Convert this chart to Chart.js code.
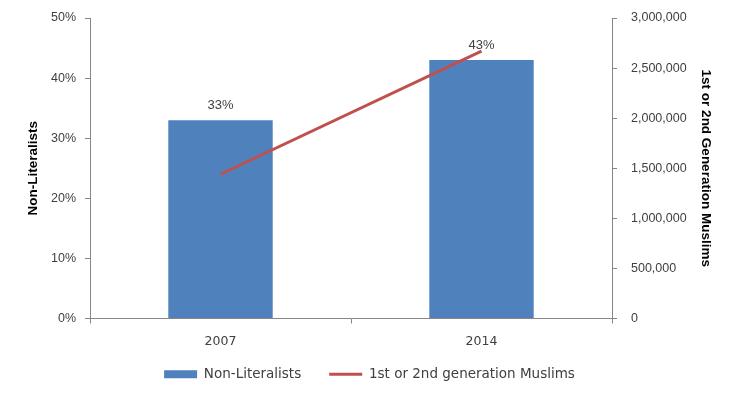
<!DOCTYPE html>
<html>
<head>
<meta charset="utf-8">
<script src="https://cdn.jsdelivr.net/npm/chart.js@4"></script>
<style>
  html, body { margin: 0; padding: 0; background: #fff; }
  #wrap { width: 737px; height: 399px; }
</style>
</head>
<body>
<div id="wrap"><canvas id="chart"></canvas></div>
<script>
// values
const years = ['2007', '2014'];
const nonLiteralists = [33, 43];           // percent
const muslims = [1440000, 2670000];        // 1st or 2nd generation
const pctTicks = [0, 10, 20, 30, 40, 50];
const countTicks = [0, 500000, 1000000, 1500000, 2000000, 2500000, 3000000];

const axisGray = '#868686';
const textGray = '#404040';
const tickFont = { family: 'Liberation Sans', size: 12.5 };
const titleFont = { family: 'Liberation Sans', size: 13.5, weight: 'bold' };

// little plugin for the % labels above the bars
const barLabels = {
    id: 'barLabels',
    afterDatasetsDraw: function(chart) {
        const ctx = chart.ctx;
        const meta = chart.getDatasetMeta(0);
        ctx.save();
        ctx.font = '13px "Liberation Sans"';
        ctx.fillStyle = textGray;
        ctx.textAlign = 'center';
        ctx.textBaseline = 'bottom';
        meta.data.forEach(function(bar, i) {
            ctx.fillText(nonLiteralists[i] + '%', bar.x, bar.y - 8);
        });
        ctx.restore();
    }
};

const ctx = document.getElementById('chart').getContext('2d');
const chart = new Chart(ctx, {
    type: 'bar',
    data: {
        labels: years,
        datasets: [{
            label: 'Non-Literalists',
            data: nonLiteralists,
            backgroundColor: '#4F81BD',
            borderWidth: 0,
            barPercentage: 0.4,
            categoryPercentage: 1,
            yAxisID: 'y',
            order: 1
        }, {
            type: 'line',
            label: '1st or 2nd generation Muslims',
            data: muslims,
            borderColor: '#C0504D',
            backgroundColor: '#C0504D',
            borderWidth: 3,
            pointRadius: 0,
            yAxisID: 'y1',
            order: 0
        }]
    },
    options: {
        responsive: true,
        maintainAspectRatio: false,
        animation: false,
        layout: { padding: { left: 21, right: 19, top: 18, bottom: 8 } },
        plugins: {
            tooltip: { enabled: false },
            legend: {
                position: 'bottom',
                labels: {
                    usePointStyle: true,
                    pointStyleWidth: 33,
                    boxHeight: 8,
                    padding: 28,
                    color: textGray,
                    font: { family: 'DejaVu Sans', size: 13.5 },
                    sort: (a, b) => a.datasetIndex - b.datasetIndex,
                    generateLabels: function(chart) {
                        const items = Chart.defaults.plugins.legend.labels.generateLabels(chart);
                        items.forEach(function(it) {
                            if (it.datasetIndex === 0) {
                                it.pointStyle = 'rect';
                                it.lineWidth = 0;
                            } else {
                                it.pointStyle = 'line';
                                it.lineWidth = 3;
                                it.strokeStyle = '#C0504D';
                            }
                        });
                        return items;
                    }
                }
            }
        },
        scales: {
            x: {
                afterFit: function(scale) {
                    scale.height = 21;
                    // let the year labels spill below the squeezed axis box
                    scale._computeLabelArea = function() { return undefined; };
                },
                grid: { display: true, drawOnChartArea: false, tickLength: 5, color: axisGray, offset: true },
                border: { color: axisGray },
                ticks: { color: textGray, font: { family: 'DejaVu Sans', size: 12.5 }, padding: 11 }
            },
            y: {
                position: 'left',
                min: 0,
                max: 50,
                afterBuildTicks: function(scale) {
                    scale.ticks = pctTicks.map(v => ({ value: v }));
                },
                afterFit: function(scale) { scale.width = 69; scale.paddingTop = 0; },
                grid: { drawOnChartArea: false, tickLength: 5, color: axisGray },
                border: { color: axisGray },
                ticks: { color: textGray, font: tickFont, padding: 9, callback: v => v + '%' },
                title: {
                    display: true,
                    text: 'Non-Literalists',
                    color: '#000',
                    font: titleFont
                }
            },
            y1: {
                position: 'right',
                min: 0,
                max: 3000000,
                afterBuildTicks: function(scale) {
                    scale.ticks = countTicks.map(v => ({ value: v }));
                },
                afterFit: function(scale) { scale.width = 106; scale.paddingTop = 0; },
                grid: { drawOnChartArea: false, tickLength: 5, color: axisGray },
                border: { color: axisGray },
                ticks: { color: textGray, font: tickFont, padding: 14, callback: v => v.toLocaleString('en-US') },
                title: {
                    display: true,
                    text: '1st or 2nd Generation Muslims',
                    color: '#000',
                    font: titleFont
                }
            }
        }
    },
    plugins: [barLabels]
});
</script>
</body>
</html>
